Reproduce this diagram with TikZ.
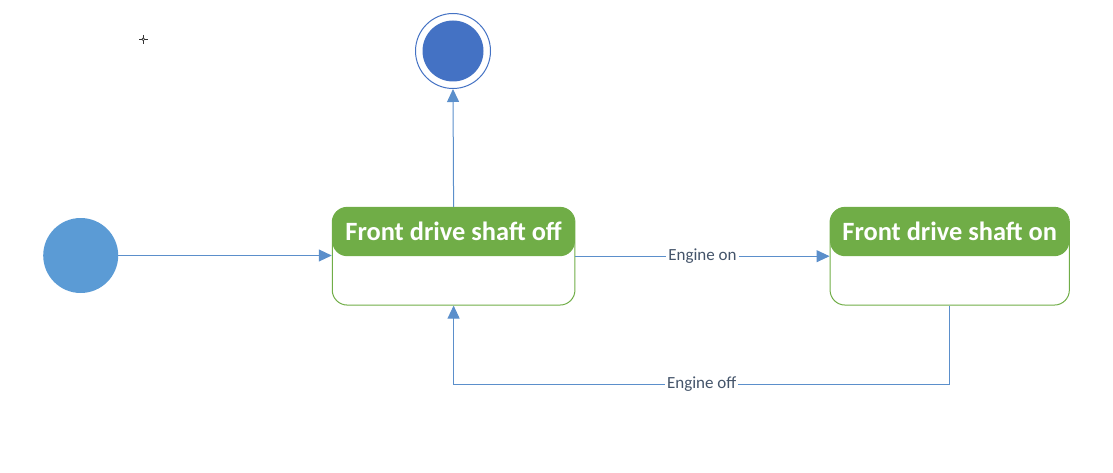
\documentclass[tikz,border=0pt]{standalone}
\usepackage{fontspec}
\setmainfont{Carlito}
\usetikzlibrary{arrows.meta,calc}
\definecolor{initblue}{HTML}{5B9BD5}
\definecolor{finalblue}{HTML}{4472C4}
\definecolor{linkblue}{HTML}{5B8FCB}
\definecolor{hdrgreen}{HTML}{70AD47}
\definecolor{lbltext}{HTML}{44546A}
\tikzset{
  statebox/.style={draw=hdrgreen, line width=1pt, rounded corners=15pt, minimum width=#1, minimum height=97.7pt, inner sep=0pt,
    path picture={\fill[hdrgreen] (path picture bounding box.north west) rectangle (path picture bounding box.east);}},
  title/.style={text=white, font=\fontsize{26.4}{30}\selectfont\bfseries, inner sep=0pt},
  link/.style={draw=linkblue, line width=1pt, -{Triangle[length=13pt,width=12pt]}},
  lbl/.style={fill=white, text=lbltext, font=\fontsize{17}{20}\selectfont, inner xsep=2pt, inner ysep=1pt}
}
\begin{document}
\begin{tikzpicture}[x=1pt,y=-1pt]
\useasboundingbox (0,0) rectangle (1113,473);
% small crosshair mark
\draw[line width=1pt, black!80] (139,39.3) -- (147.6,39.3) (143.3,35) -- (143.3,43.6);
\draw[line width=0.7pt, black!80, fill=white] (143.3,39.3) circle (1.4pt);
% initial and final states
\node[circle, fill=initblue, minimum size=75pt, inner sep=0pt] (init) at (80.7,255.5) {};
\node[circle, draw=finalblue, line width=1pt, fill=white, minimum size=75pt, inner sep=0pt] (final) at (453,51) {};
\node[circle, fill=finalblue, minimum size=61pt, inner sep=0pt] (finalin) at (final.center) {};
% states
\node[statebox=242.7pt] (s1) at (453.6,256.2) {};
\node[title] (s1t) at ($(s1.north)!0.5!(s1.center)$) {Front drive shaft off};
\node[statebox=239.3pt] (s2) at (949.7,256.2) {};
\node[title] (s2t) at ($(s2.north)!0.5!(s2.center)$) {Front drive shaft on};
% connectors
\coordinate (bot) at (0,384);
\draw[link] (init.east) -- (init.east -| s1.west);
\draw[link] (s1.north) -- (final.south);
\draw[link] (s1.east) -- node[lbl] {Engine on} (s2.west);
\draw[link] (s2.south) -- (s2.south |- bot) -- node[lbl] {Engine off} (s1.south |- bot) -- (s1.south);
\end{tikzpicture}
\end{document}
